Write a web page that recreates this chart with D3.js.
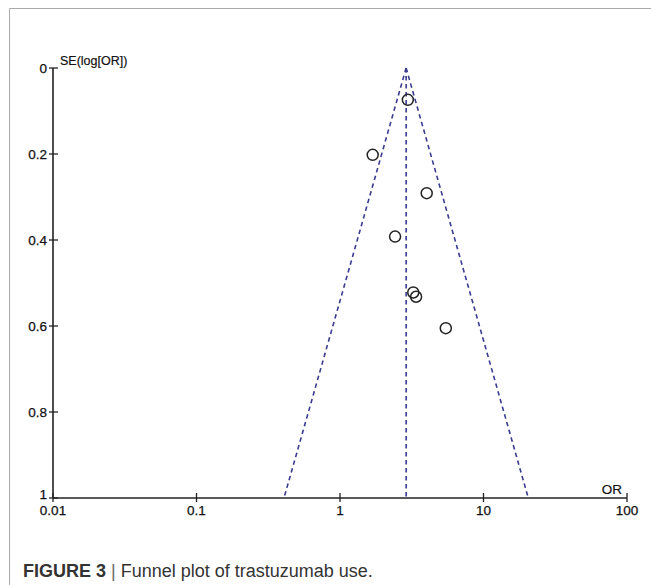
<!DOCTYPE html>
<html>
<head>
<meta charset="utf-8">
<script src="https://cdn.jsdelivr.net/npm/d3@7"></script>
<style>
  body { margin: 0; background: #fff; }
  svg text { font-family: "Liberation Sans", Arial, sans-serif; }
</style>
</head>
<body>
<div id="chart"></div>
<script>
// study odds ratios and standard errors
var orValues = [2.97, 1.69, 4.02, 2.42, 3.24, 3.39, 5.46];
var seValues = [0.074, 0.202, 0.291, 0.392, 0.522, 0.532, 0.605];
var pooledOR = 2.89;
var xTicks = [0.01, 0.1, 1, 10, 100];
var yTicks = [0, 0.2, 0.4, 0.6, 0.8, 1];

var W = 651, H = 585;
var svg = d3.select("#chart").append("svg").attr("width", W).attr("height", H);

// frame of the figure panel
svg.append("path").attr("d", "M9.5,585 V8.5 H651").attr("fill", "none").attr("stroke", "#aaa").attr("stroke-width", 1);

var x = d3.scaleLog().domain([0.01, 100]).range([53, 627]);
var y = d3.scaleLinear().domain([0, 1]).range([68, 498]);

var g = svg.append("g");

// axes
g.append("line").attr("x1", x(0.01)).attr("x2", x(100)).attr("y1", y(1)).attr("y2", y(1)).attr("stroke", "#222").attr("stroke-width", 1.6);
g.append("line").attr("x1", x(0.01)).attr("x2", x(0.01)).attr("y1", y(0)).attr("y2", y(1)).attr("stroke", "#222").attr("stroke-width", 1.6);

xTicks.forEach(function(t) {
  g.append("line").attr("x1", x(t)).attr("x2", x(t)).attr("y1", y(1) - 5).attr("y2", y(1) + 4).attr("stroke", "#222").attr("stroke-width", 1.3);
  g.append("text").attr("x", x(t)).attr("y", y(1) + 17).attr("text-anchor", "middle")
    .attr("font-size", 13.5).attr("fill", "#111").attr("stroke", "#111").attr("stroke-width", 0.25).text(t);
});
yTicks.forEach(function(t) {
  g.append("line").attr("x1", x(0.01) - 4).attr("x2", x(0.01) + 5).attr("y1", y(t)).attr("y2", y(t)).attr("stroke", "#222").attr("stroke-width", 1.3);
  g.append("text").attr("x", x(0.01) - 6).attr("y", y(t) + (t === 1 ? 1 : 5)).attr("text-anchor", "end")
    .attr("font-size", 13.5).attr("fill", "#111").attr("stroke", "#111").attr("stroke-width", 0.25).text(t);
});

g.append("text").attr("x", 60).attr("y", 65).attr("font-size", 12.5).attr("fill", "#111").attr("stroke", "#111").attr("stroke-width", 0.2).text("SE(log[OR])");
g.append("text").attr("x", 622).attr("y", 494).attr("text-anchor", "end").attr("font-size", 13.5).attr("fill", "#111").attr("stroke", "#111").attr("stroke-width", 0.2).text("OR");

// funnel: pooled estimate and 95% limits
var lp = Math.log(pooledOR);
var dashColor = "#3b3b8f";
function dashed(x1, y1, x2, y2) {
  g.append("line").attr("x1", x1).attr("y1", y1).attr("x2", x2).attr("y2", y2)
    .attr("stroke", dashColor).attr("stroke-width", 1.6).attr("stroke-dasharray", "4.5,3.5");
}
dashed(x(pooledOR), y(0), x(pooledOR), y(1));
dashed(x(pooledOR), y(0), x(Math.exp(lp - 1.96)), y(1));
dashed(x(pooledOR), y(0), x(Math.exp(lp + 1.96)), y(1));

// studies
g.selectAll("circle.study").data(orValues).enter().append("circle")
  .attr("class", "study")
  .attr("cx", function(d) { return x(d); })
  .attr("cy", function(d, i) { return y(seValues[i]); })
  .attr("r", 5.5)
  .attr("fill", "none").attr("stroke", "#222").attr("stroke-width", 1.5);

// caption
var cap = svg.append("text").attr("x", 23).attr("y", 577).attr("font-size", 18).attr("fill", "#333");
cap.append("tspan").attr("font-weight", "bold").text("FIGURE 3");
cap.append("tspan").attr("fill", "#666").text(" | ");
cap.append("tspan").text("Funnel plot of trastuzumab use.");
</script>
</body>
</html>
